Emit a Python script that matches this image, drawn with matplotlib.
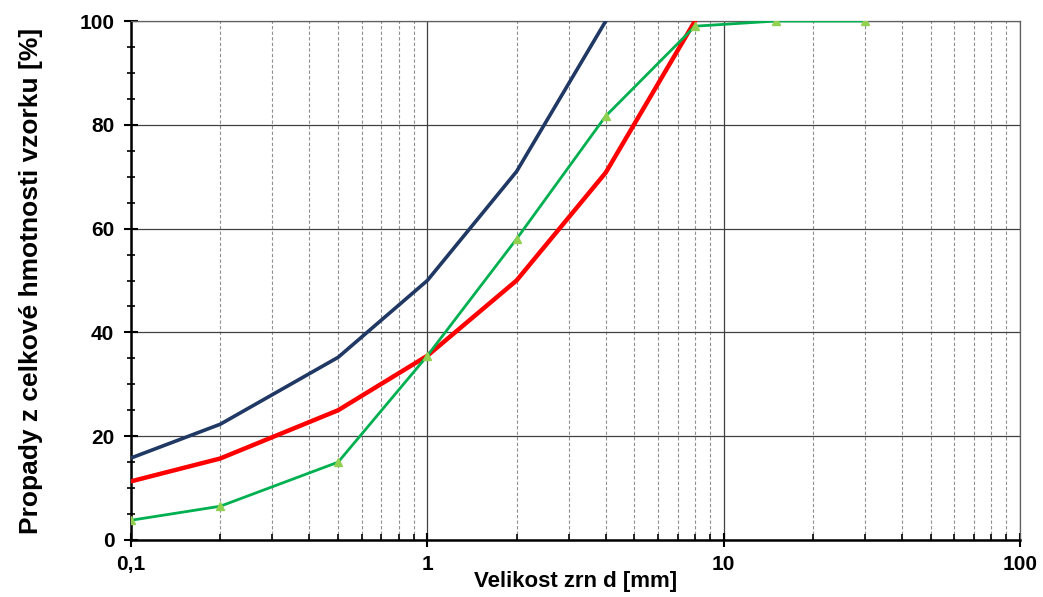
import matplotlib.pyplot as plt
from matplotlib.ticker import FixedLocator, FixedFormatter, MultipleLocator, LogLocator, NullFormatter

plt.rcParams['font.family'] = ['Liberation Sans', 'DejaVu Sans']
plt.rcParams['font.weight'] = 'bold'

# křivky zrnitosti: velikost zrna [mm] a propad [%]
d_modra = [0.1, 0.2, 0.5, 1, 2, 4]
p_modra = [15.8, 22.3, 35.2, 50.0, 71.0, 100.0]

d_cervena = [0.1, 0.2, 0.5, 1, 2, 4, 8]
p_cervena = [11.3, 15.7, 25.0, 35.5, 50.0, 70.8, 100.0]

d_zelena = [0.1, 0.2, 0.5, 1, 2, 4, 8, 15, 30]
p_zelena = [3.8, 6.5, 15.0, 35.5, 58.0, 81.7, 99.0, 100.0, 100.0]

x_ticks = [0.1, 1, 10, 100]
x_labels = ['0,1', '1', '10', '100']

fig = plt.figure(figsize=(10.43, 5.97), dpi=100)
ax = fig.add_axes([0.1256, 0.0955, 0.8524, 0.8693])

ax.plot(d_modra, p_modra, color='#203864', lw=2.6, zorder=3)
ax.plot(d_cervena, p_cervena, color='#FF0000', lw=3.2, zorder=4)
ax.plot(d_zelena, p_zelena, color='#00B050', lw=2.0, zorder=5,
        marker='^', markersize=6, markerfacecolor='#92D050',
        markeredgecolor='#92D050')

ax.set_xscale('log')
ax.set_xlim(0.1, 100)
ax.set_ylim(0, 100)

ax.xaxis.set_major_locator(FixedLocator(x_ticks))
ax.xaxis.set_major_formatter(FixedFormatter(x_labels))
ax.xaxis.set_minor_locator(LogLocator(base=10, subs=range(2, 10)))
ax.xaxis.set_minor_formatter(NullFormatter())
ax.yaxis.set_major_locator(MultipleLocator(20))
ax.yaxis.set_minor_locator(MultipleLocator(5))

ax.grid(which='major', axis='both', color='#404040', lw=0.9, zorder=1)
ax.grid(which='minor', axis='x', color='#909090', lw=0.8, ls=(0, (3, 2)), zorder=1)

ax.tick_params(axis='both', which='major', direction='inout', length=10,
               width=1.5, labelsize=15)
ax.tick_params(axis='y', which='major', pad=7)
ax.tick_params(axis='x', which='major', pad=6)
ax.tick_params(axis='y', which='minor', direction='inout', length=6, width=1.2)
ax.tick_params(axis='x', which='minor', direction='in', length=4, width=1.2)

for s in ('left', 'bottom'):
    ax.spines[s].set_color('black')
    ax.spines[s].set_linewidth(1.8)
for s in ('top', 'right'):
    ax.spines[s].set_color('#606060')
    ax.spines[s].set_linewidth(0.9)

ax.set_xlabel('Velikost zrn d [mm]', fontsize=16, fontweight='bold', labelpad=-2)
ax.set_ylabel('Propady z celkové hmotnosti vzorku [%]', fontsize=19,
              fontweight='bold', labelpad=26)

fig.savefig('out.png', dpi=100)
